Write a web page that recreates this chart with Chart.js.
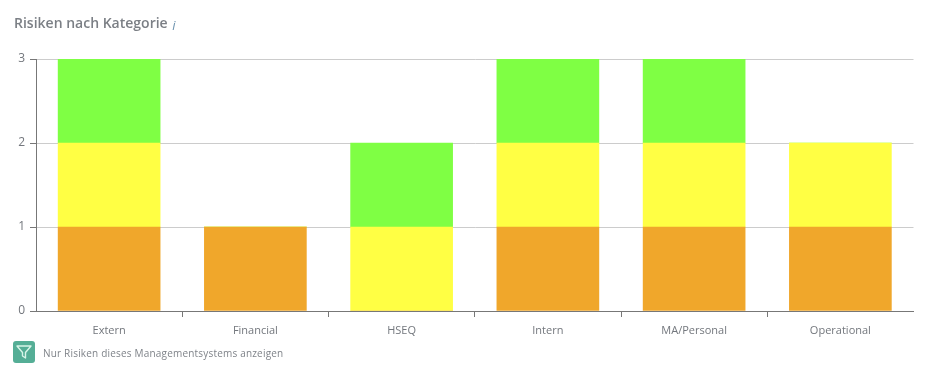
<!DOCTYPE html>
<html lang="de"><head><meta charset="utf-8">
<script src="https://cdn.jsdelivr.net/npm/chart.js@4"></script>
<style>
html,body{margin:0;padding:0;background:#fff;width:931px;height:367px;overflow:hidden;font-family:"Open Sans",sans-serif}
#wrap{position:absolute;left:0;top:0;width:931px;height:367px}
#title{position:absolute;left:14px;top:13px;font-size:14px;line-height:20px;font-weight:600;color:#7b7f85;white-space:nowrap}
#title i{font-size:13px;font-weight:400;color:#6f94b0;position:relative;top:2px;left:1px}
#icon{position:absolute;left:13px;top:341px;width:22px;height:22px;background:#55ae96;border-radius:3px}
#note{position:absolute;left:43px;top:345px;font-size:10px;line-height:16px;color:#7f8389;white-space:nowrap;letter-spacing:.19px}
</style></head><body>
<div id="wrap"><canvas id="c" width="931" height="367"></canvas>
<div id="title">Risiken nach Kategorie <i>i</i></div>
<div id="icon"><svg width="22" height="22" viewBox="0 0 22 22"><path d="M4 5H18L12.5 11.5V17L9.5 15V11.5Z" fill="none" stroke="#d8f5e8" stroke-width="1.4" stroke-linejoin="round"/></svg></div>
<div id="note">Nur Risiken dieses Managementsystems anzeigen</div></div>
<script>
const categories=["Extern","Financial","HSEQ","Intern","MA/Personal","Operational"];
const seriesOrange=[1,1,0,1,1,1];
const seriesYellow=[1,0,1,1,1,1];
const seriesGreen=[1,0,1,1,1,0];
const yTicks=[0,1,2,3];
const textColor="#73777d";
new Chart(document.getElementById("c"),{
 type:"bar",
 data:{labels:categories,datasets:[
  {label:"Hoch",data:seriesOrange,backgroundColor:"#f0a72b"},
  {label:"Mittel",data:seriesYellow,backgroundColor:"#ffff44"},
  {label:"Niedrig",data:seriesGreen,backgroundColor:"#7fff44"}]},
 options:{responsive:false,animation:false,
  layout:{padding:{left:0,right:17.5,top:59,bottom:0}},
  plugins:{legend:{display:false},tooltip:{enabled:false},title:{display:false}},
  datasets:{bar:{barThickness:102,borderWidth:0}},
  scales:{
   x:{stacked:true,
    afterFit(s){s.height=56;},
    grid:{drawOnChartArea:false,drawTicks:true,tickLength:6,offset:true,
      tickColor:c=>(c.index===0||c.tick===undefined)?"rgba(0,0,0,0)":"#777"},
    border:{color:"#777",width:1,z:1},
    ticks:{color:textColor,padding:7,font:{family:"'Open Sans'",size:11},maxRotation:0}},
   y:{stacked:true,min:0,max:3,
    afterFit(s){s.width=36;},
    afterBuildTicks(s){s.ticks=yTicks.map(v=>({value:v}));},
    grid:{color:"#cccccc",tickColor:"#777",tickLength:6,lineWidth:1},
    border:{color:"#777",width:1,z:1},
    ticks:{color:textColor,padding:5,font:{family:"'Open Sans'",size:12}}}
  }}
});
</script></body></html>
